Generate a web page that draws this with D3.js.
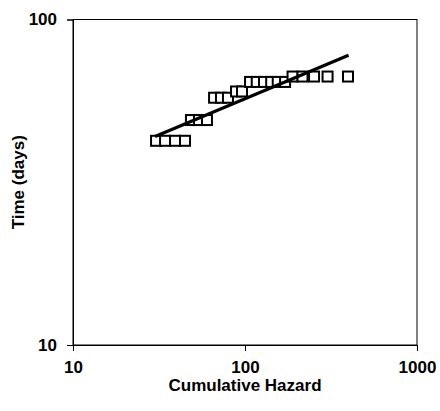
<!DOCTYPE html>
<html><head><meta charset="utf-8">
<script src="https://cdn.jsdelivr.net/npm/d3@7"></script>
<style>body{margin:0;background:#fff}svg{display:block}text{font-family:"Liberation Sans",Arial,sans-serif;font-weight:bold;fill:#000}</style>
</head><body>
<script>
// Data
const hazard = [30.4, 34.3, 39.2, 44.8, 48.5, 54.0, 60.1, 66.1, 72.5, 79.6, 88.7, 96.1, 107, 117, 129, 142, 155, 171, 189, 216, 252, 302, 397];
const days   = [42.4, 42.4, 42.4, 42.4, 49.1, 49.1, 49.1, 57.5, 57.5, 57.5, 60.1, 60.1, 64.3, 64.3, 64.3, 64.3, 64.3, 64.3, 66.8, 66.8, 66.8, 66.8, 66.8];
const fitHazard = [30, 400];
const fitDays = [43.7, 77.6];
const xTicks = [10, 100, 1000];
const yTicks = [10, 100];
const xTitle = "Cumulative Hazard";
const yTitle = "Time (days)";

const W = 440, H = 411;
const m = {left: 73, right: 23, top: 19.5, bottom: 66};
const svg = d3.select("body").append("svg").attr("width", W).attr("height", H);
const x = d3.scaleLog().domain([10, 1000]).range([m.left, W - m.right]);
const y = d3.scaleLog().domain([10, 100]).range([H - m.bottom, m.top]);

const g = svg.append("g");
// frame
g.append("rect").attr("x", x(10)).attr("y", y(100)).attr("width", x(1000) - x(10)).attr("height", y(10) - y(100))
  .attr("fill", "none").attr("stroke", "#000").attr("stroke-width", 1);

const xAxis = g.append("g").attr("transform", `translate(0,${y(10)})`)
  .call(d3.axisBottom(x).tickValues(xTicks).tickFormat(d3.format("d")).tickSize(6).tickPadding(10));
const yAxis = g.append("g").attr("transform", `translate(${x(10)},0)`)
  .call(d3.axisLeft(y).tickValues(yTicks).tickFormat(d3.format("d")).tickSize(6).tickPadding(10));
[xAxis, yAxis].forEach(a => {
  a.select(".domain").attr("stroke", "#000");
  a.selectAll(".tick line").attr("stroke", "#000");
  a.selectAll("text").style("font-size", "17px").style("font-weight", "bold").attr("fill", "#000")
   .style("font-family", '"Liberation Sans", Arial, sans-serif');
});

// markers
const s = 10;
g.append("g").selectAll("rect").data(hazard).join("rect")
  .attr("x", (d, i) => x(d) - s / 2).attr("y", (d, i) => y(days[i]) - s / 2)
  .attr("width", s).attr("height", s)
  .attr("fill", "#fff").attr("stroke", "#000").attr("stroke-width", 2);

// fit line
g.append("path").datum(fitHazard.map((d, i) => [d, fitDays[i]]))
  .attr("d", d3.line().x(d => x(d[0])).y(d => y(d[1])))
  .attr("fill", "none").attr("stroke", "#000").attr("stroke-width", 3.2);

svg.append("text").attr("x", (x(10) + x(1000)) / 2).attr("y", 391).attr("text-anchor", "middle")
  .style("font-size", "17px").text(xTitle);
svg.append("text").attr("transform", `translate(24,${(y(10) + y(100)) / 2}) rotate(-90)`).attr("text-anchor", "middle")
  .style("font-size", "17px").text(yTitle);
</script>
</body></html>
